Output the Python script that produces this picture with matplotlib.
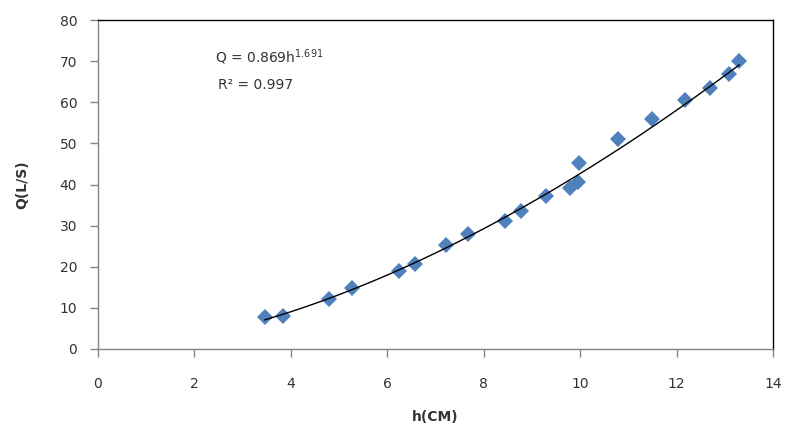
import numpy as np
import matplotlib
matplotlib.use("Agg")
import matplotlib.pyplot as plt

h_cm = [3.46, 3.84, 4.79, 5.27, 6.24, 6.58, 7.22, 7.68, 8.44, 8.78, 9.29,
        9.79, 9.96, 9.98, 10.79, 11.49, 12.18, 12.70, 13.09, 13.30]
q_ls = [7.8, 8.0, 12.2, 14.8, 19.0, 20.7, 25.3, 28.0, 31.1, 33.6, 37.2,
        39.2, 40.6, 45.3, 51.1, 56.0, 60.6, 63.5, 66.9, 70.1]
fit_a = 0.869
fit_b = 1.691
x_ticks = [0, 2, 4, 6, 8, 10, 12, 14]
y_ticks = [0, 10, 20, 30, 40, 50, 60, 70, 80]

fig = plt.figure(figsize=(7.85, 4.37), dpi=100)
ax = fig.add_axes([98/785, 1-349/437, 675/785, 329/437])

hh = np.linspace(min(h_cm), max(h_cm), 200)
ax.plot(hh, fit_a * hh**fit_b, color='black', lw=1.0, zorder=3)
ax.plot(h_cm, q_ls, linestyle='none', marker='D', markersize=8.5,
        color='#4F81BD', markeredgewidth=0, zorder=2)

ax.set_xlim(0, 14)
ax.set_ylim(0, 80)
ax.set_xticks(x_ticks)
ax.set_yticks(y_ticks)

tc = '#333333'
ax.tick_params(axis='both', direction='out', length=6, width=1, color='#868686',
               labelsize=10, labelcolor=tc)
ax.tick_params(axis='x', pad=14)
ax.tick_params(axis='y', pad=9)

ax.spines['left'].set_color('#868686')
ax.spines['bottom'].set_color('#868686')
ax.spines['top'].set_color('black')
ax.spines['right'].set_color('black')
for s in ax.spines.values():
    s.set_linewidth(1.0)

ax.set_xlabel('h(CM)', fontsize=10, fontweight='bold', color=tc, labelpad=14)
ax.set_ylabel('Q(L/S)', fontsize=10, fontweight='bold', color=tc, labelpad=22)

ax.text(3.55, 71.0, r'Q = 0.869h$^{1.691}$', fontsize=10, color=tc,
        ha='center', va='center')
ax.text(3.26, 64.2, 'R² = 0.997', fontsize=10, color=tc, ha='center', va='center')

fig.savefig('out.png', dpi=100)
